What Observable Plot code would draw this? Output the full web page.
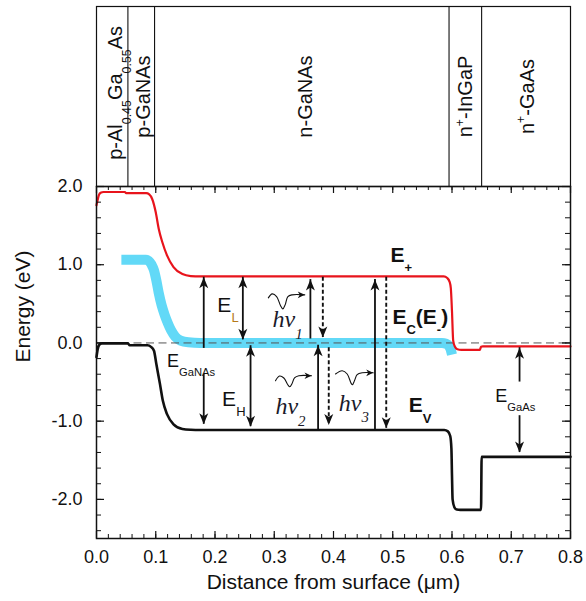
<!DOCTYPE html>
<html><head><meta charset="utf-8">
<script src="https://cdn.jsdelivr.net/npm/d3@7"></script>
<script src="https://cdn.jsdelivr.net/npm/@observablehq/plot@0.6"></script>
<style>
body{margin:0;background:#fff;}
#chart{width:586px;height:601px;font-family:"Liberation Sans",Arial,sans-serif;}
#chart svg{display:block;overflow:visible;}
</style></head><body><div id="chart"></div>
<script>
// ---------- data ----------
const layerNames = ["p-Al_{0.45}Ga_{0.55}As", "p-GaNAs", "n-GaNAs", "n^{+}-InGaP", "n^{+}-GaAs"];
const layerCenters = [0.032, 0.080, 0.353, 0.623, 0.727];
const layerMid = [0.52, 0.5, 0.5, 0.5, 0.5];
const layerBoundaries = [0.053, 0.098, 0.595, 0.650];

const xTickValues = [0, 0.1, 0.2, 0.3, 0.4, 0.5, 0.6, 0.7, 0.8];
const xTickLabels = ["0.0", "0.1", "0.2", "0.3", "0.4", "0.5", "0.6", "0.7", "0.8"];
const yTickValues = [2, 1, 0, -1, -2];
const yTickLabels = ["2.0", "1.0", "0.0", "-1.0", "-2.0"];

// E+ (red)
const ePlusX = [0, 0.002, 0.004, 0.007, 0.012, 0.048, 0.050, 0.084, 0.089, 0.094, 0.100, 0.105, 0.111, 0.119, 0.130, 0.145, 0.159, 0.175, 0.586, 0.592, 0.596, 0.598, 0.600, 0.602, 0.605, 0.609, 0.616, 0.647, 0.649, 0.652, 0.8];
const ePlusY = [1.76, 1.83, 1.89, 1.92, 1.93, 1.93, 1.915, 1.915, 1.90, 1.84, 1.67, 1.46, 1.29, 1.12, 0.97, 0.88, 0.855, 0.85, 0.85, 0.83, 0.78, 0.70, 0.40, 0.03, -0.05, -0.08, -0.088, -0.088, -0.05, -0.045, -0.045];
// E_V (black)
const eVX = [0, 0.002, 0.005, 0.009, 0.053, 0.056, 0.086, 0.092, 0.097, 0.101, 0.107, 0.112, 0.119, 0.130, 0.145, 0.159, 0.175, 0.587, 0.593, 0.597, 0.599, 0.600, 0.601, 0.604, 0.608, 0.614, 0.649, 0.650, 0.8];
const eVY = [-0.18, -0.08, -0.02, -0.005, -0.005, -0.03, -0.03, -0.05, -0.10, -0.27, -0.52, -0.74, -0.91, -1.04, -1.10, -1.11, -1.113, -1.113, -1.13, -1.19, -1.35, -1.70, -2.00, -2.10, -2.13, -2.134, -2.134, -1.456, -1.456];
// E- band (cyan)
const eMinusX = [0.042, 0.083, 0.088, 0.093, 0.097, 0.101, 0.105, 0.110, 0.115, 0.120, 0.126, 0.133, 0.142, 0.155, 0.175, 0.583, 0.590, 0.595, 0.598, 0.600];
const eMinusY = [1.065, 1.065, 1.05, 1.00, 0.93, 0.80, 0.64, 0.48, 0.36, 0.26, 0.16, 0.08, 0.03, 0.008, 0.0, 0.0, -0.01, -0.04, -0.09, -0.15];

// vertical transition arrows
const arrowX    = [0.181, 0.181, 0.247, 0.260, 0.361, 0.382, 0.374, 0.392, 0.470, 0.489, 0.714, 0.714];
const arrowFrom = [-0.07, -0.40, 0.84, -0.035, 0.05, 0.84, -1.11, -0.06, -1.11, 0.84, -0.50, -0.93];
const arrowTo   = [0.84, -1.04, 0.04, -1.07, 0.81, 0.07, -0.03, -1.05, 0.81, -1.09, -0.06, -1.40];
const arrowBoth = [false, false, true, true, false, false, false, false, false, false, false, false];
const arrowDashed = [false, false, false, false, false, true, false, true, false, true, false, false];

// photon wiggles
const wave1X = [0.290, 0.2965, 0.304, 0.3105, 0.3145, 0.3185, 0.323, 0.330, 0.3515];
const wave1Y = [0.576, 0.627, 0.593, 0.478, 0.435, 0.49, 0.593, 0.615, 0.615];
const wave2X = [0.3021, 0.3089, 0.3162, 0.3229, 0.3263, 0.3297, 0.3342, 0.3415, 0.3629];
const wave2Y = [-0.483, -0.423, -0.448, -0.534, -0.560, -0.525, -0.448, -0.419, -0.419];
const wave3X = [0.4034, 0.4147, 0.4231, 0.4298, 0.432, 0.4354, 0.4399, 0.4484, 0.467];
const wave3Y = [-0.397, -0.355, -0.397, -0.517, -0.534, -0.483, -0.406, -0.382, -0.382];

// labels
const boldLabels = ["E_{+}", "E_{C}(E_{-})", "E_{V}"];
const boldX = [0.496, 0.4995, 0.527];
const boldY = [1.032, 0.243, -0.889];
const plainLabels = ["E_{L}", "E_{H}"];
const plainX = [0.204, 0.212];
const plainY = [0.392, -0.803];
const smallLabels = ["E_{GaNAs}", "E_{GaAs}"];
const smallX = [0.119, 0.673];
const smallY = [-0.312, -0.76];
const photonLabels = ["hν_{1}", "hν_{2}", "hν_{3}"];
const photonX = [0.297, 0.302, 0.409];
const photonY = [0.20, -0.909, -0.867];

// ---------- drawing ----------
const ink = "#111";
const headUp = {draw(c){c.moveTo(0,0);c.lineTo(4.5,11);c.lineTo(0,8);c.lineTo(-4.5,11);c.closePath();}};
const headDown = {draw(c){c.moveTo(0,0);c.lineTo(4.5,-11);c.lineTo(0,-8);c.lineTo(-4.5,-11);c.closePath();}};
const headRight = {draw(c){c.moveTo(0,0);c.lineTo(-7,-3.3);c.lineTo(-5,0);c.lineTo(-7,3.3);c.closePath();}};

const idx = d3.range(arrowX.length);
const heads = [];
idx.forEach(i => {
  const up = arrowTo[i] > arrowFrom[i];
  heads.push({x: arrowX[i], y: arrowTo[i], up});
  if (arrowBoth[i]) heads.push({x: arrowX[i], y: arrowFrom[i], up: !up});
});
const waveTips = [
  {x: wave1X[wave1X.length-1], y: wave1Y[wave1Y.length-1]},
  {x: wave2X[wave2X.length-1], y: wave2Y[wave2Y.length-1]},
  {x: wave3X[wave3X.length-1], y: wave3Y[wave3Y.length-1]}
];

const minorX = d3.range(0, 0.8001, 0.02);
const minorY = d3.range(-2.4, 2.0001, 0.2);

const W = 586, ML = 96, MR = 16;
const topChart = Plot.plot({
  width: W, height: 186, marginTop: 6, marginBottom: 0, marginLeft: ML, marginRight: MR,
  x: {domain: [0, 0.8], axis: null}, y: {domain: [0, 1], axis: null},
  style: {fontFamily: '"Liberation Sans", Arial, sans-serif', color: ink, background: "transparent"},
  marks: [
    Plot.frame({stroke: ink, strokeWidth: 1.2}),
    Plot.ruleX(layerBoundaries, {stroke: ink, strokeWidth: 1.1}),
    Plot.text(layerNames, {x: layerCenters, y: layerMid, rotate: -90, fontSize: 20, fill: ink})
  ]
});

const PH = 352;
const mainChart = Plot.plot({
  width: W, height: 425, marginTop: 10, marginBottom: 63, marginLeft: ML, marginRight: MR,
  x: {domain: [0, 0.8], axis: null}, y: {domain: [-2.5, 2.0], axis: null},
  style: {fontFamily: '"Liberation Sans", Arial, sans-serif', color: ink, background: "transparent"},
  marks: [
    // E- band
    Plot.line(eMinusX, {x: eMinusX, y: eMinusY, stroke: "#62d9f7", strokeWidth: 10, curve: "monotone-x", strokeLinecap: "butt", strokeLinejoin: "round"}),
    Plot.ruleY([0], {stroke: "#555", strokeWidth: 1, strokeDasharray: "8,4.5"}),
    // bands
    Plot.line(ePlusX, {x: ePlusX, y: ePlusY, stroke: "#e8141c", strokeWidth: 2.2, curve: "monotone-x"}),
    Plot.line(eVX, {x: eVX, y: eVY, stroke: ink, strokeWidth: 2.6, curve: "monotone-x"}),
    // frame & inward ticks
    Plot.frame({stroke: ink, strokeWidth: 1.5}),
    Plot.ruleX(minorX, {insetTop: PH - 4, stroke: ink, strokeWidth: 1}),
    Plot.ruleX(minorX, {insetBottom: PH - 4, stroke: ink, strokeWidth: 1}),
    Plot.ruleX(xTickValues, {insetTop: PH - 7, stroke: ink, strokeWidth: 1.2}),
    Plot.ruleX(xTickValues, {insetBottom: PH - 7, stroke: ink, strokeWidth: 1.2}),
    Plot.ruleY(minorY, {insetRight: 474 - 5, stroke: ink, strokeWidth: 1}),
    Plot.ruleY(minorY, {insetLeft: 474 - 5, stroke: ink, strokeWidth: 1}),
    Plot.ruleY(yTickValues, {insetRight: 474 - 8, stroke: ink, strokeWidth: 1.2}),
    Plot.ruleY(yTickValues, {insetLeft: 474 - 8, stroke: ink, strokeWidth: 1.2}),
    Plot.axisX(xTickValues, {tickSize: 0, tickPadding: 12, fontSize: 18, label: null, tickFormat: d => xTickLabels[xTickValues.indexOf(d)]}),
    Plot.axisY(yTickValues, {tickSize: 0, tickPadding: 14, fontSize: 18, label: null, tickFormat: d => yTickLabels[yTickValues.indexOf(d)]}),
    Plot.text(["Distance from surface (μm)"], {frameAnchor: "bottom", dy: 50, lineAnchor: "bottom", fontSize: 21, fill: ink}),
    Plot.text(["Energy (eV)"], {frameAnchor: "left", dx: -73, rotate: -90, fontSize: 21, fill: ink}),
    // arrows
    Plot.ruleX(idx, {x: i => arrowX[i], y1: i => arrowFrom[i], y2: i => arrowTo[i], filter: i => !arrowDashed[i], stroke: ink, strokeWidth: 1.8}),
    Plot.ruleX(idx, {x: i => arrowX[i], y1: i => arrowFrom[i], y2: i => arrowTo[i], filter: i => arrowDashed[i], stroke: ink, strokeWidth: 1.9, strokeDasharray: "4,2.5"}),
    Plot.dot(heads.filter(d => d.up), {x: "x", y: "y", symbol: headUp, fill: ink, stroke: "none"}),
    Plot.dot(heads.filter(d => !d.up), {x: "x", y: "y", symbol: headDown, fill: ink, stroke: "none"}),
    // photons
    Plot.line(wave1X, {x: wave1X, y: wave1Y, curve: "catmull-rom", stroke: ink, strokeWidth: 1.1}),
    Plot.line(wave2X, {x: wave2X, y: wave2Y, curve: "catmull-rom", stroke: ink, strokeWidth: 1.1}),
    Plot.line(wave3X, {x: wave3X, y: wave3Y, curve: "catmull-rom", stroke: ink, strokeWidth: 1.1}),
    Plot.dot(waveTips, {x: "x", y: "y", symbol: headRight, fill: ink, stroke: "none"}),
    // labels
    Plot.text(boldLabels, {x: boldX, y: boldY, textAnchor: "start", lineAnchor: "bottom", fontSize: 21, fontWeight: "bold", fill: ink}),
    Plot.text(plainLabels, {x: plainX, y: plainY, textAnchor: "start", lineAnchor: "bottom", fontSize: 21, fill: ink}),
    Plot.text(smallLabels, {x: smallX, y: smallY, textAnchor: "start", lineAnchor: "bottom", fontSize: 18, fill: ink}),
    Plot.text(photonLabels, {x: photonX, y: photonY, textAnchor: "start", lineAnchor: "bottom", fontSize: 24, fontStyle: "italic", fontFamily: '"Liberation Serif", "Times New Roman", serif', fill: "#1a1a2a"})
  ]
});
mainChart.style.marginTop = "-10px";

const root = document.getElementById("chart");
root.appendChild(topChart);
root.appendChild(mainChart);

// sub/superscript markup -> tspans
const NS = "http://www.w3.org/2000/svg";
const subColors = {"E_{L}": "#b5791a"};
function richify(svg) {
  svg.querySelectorAll("text").forEach(t => {
    const s = t.textContent;
    if (!/[_^]\{/.test(s)) return;
    const base = parseFloat(getComputedStyle(t).fontSize) || 16;
    const parts = [];
    const re = /([_^])\{([^}]*)\}/g;
    let last = 0, m;
    while ((m = re.exec(s))) {
      if (m.index > last) parts.push({k: "n", s: s.slice(last, m.index)});
      parts.push({k: m[1], s: m[2]});
      last = re.lastIndex;
    }
    if (last < s.length) parts.push({k: "n", s: s.slice(last)});
    while (t.firstChild) t.removeChild(t.firstChild);
    let cur = 0;
    for (const p of parts) {
      const ts = document.createElementNS(NS, "tspan");
      const target = p.k === "_" ? base * 0.48 : p.k === "^" ? -base * 0.42 : 0;
      const dy = target - cur;
      if (dy) ts.setAttribute("dy", dy.toFixed(2));
      cur = target;
      if (p.k !== "n") {
        ts.setAttribute("font-size", (base * 0.62).toFixed(1));
        if (p.k === "_" && subColors[s]) ts.setAttribute("fill", subColors[s]);
      }
      ts.textContent = p.s;
      t.appendChild(ts);
    }
  });
}
richify(topChart);
richify(mainChart);
</script></body></html>
